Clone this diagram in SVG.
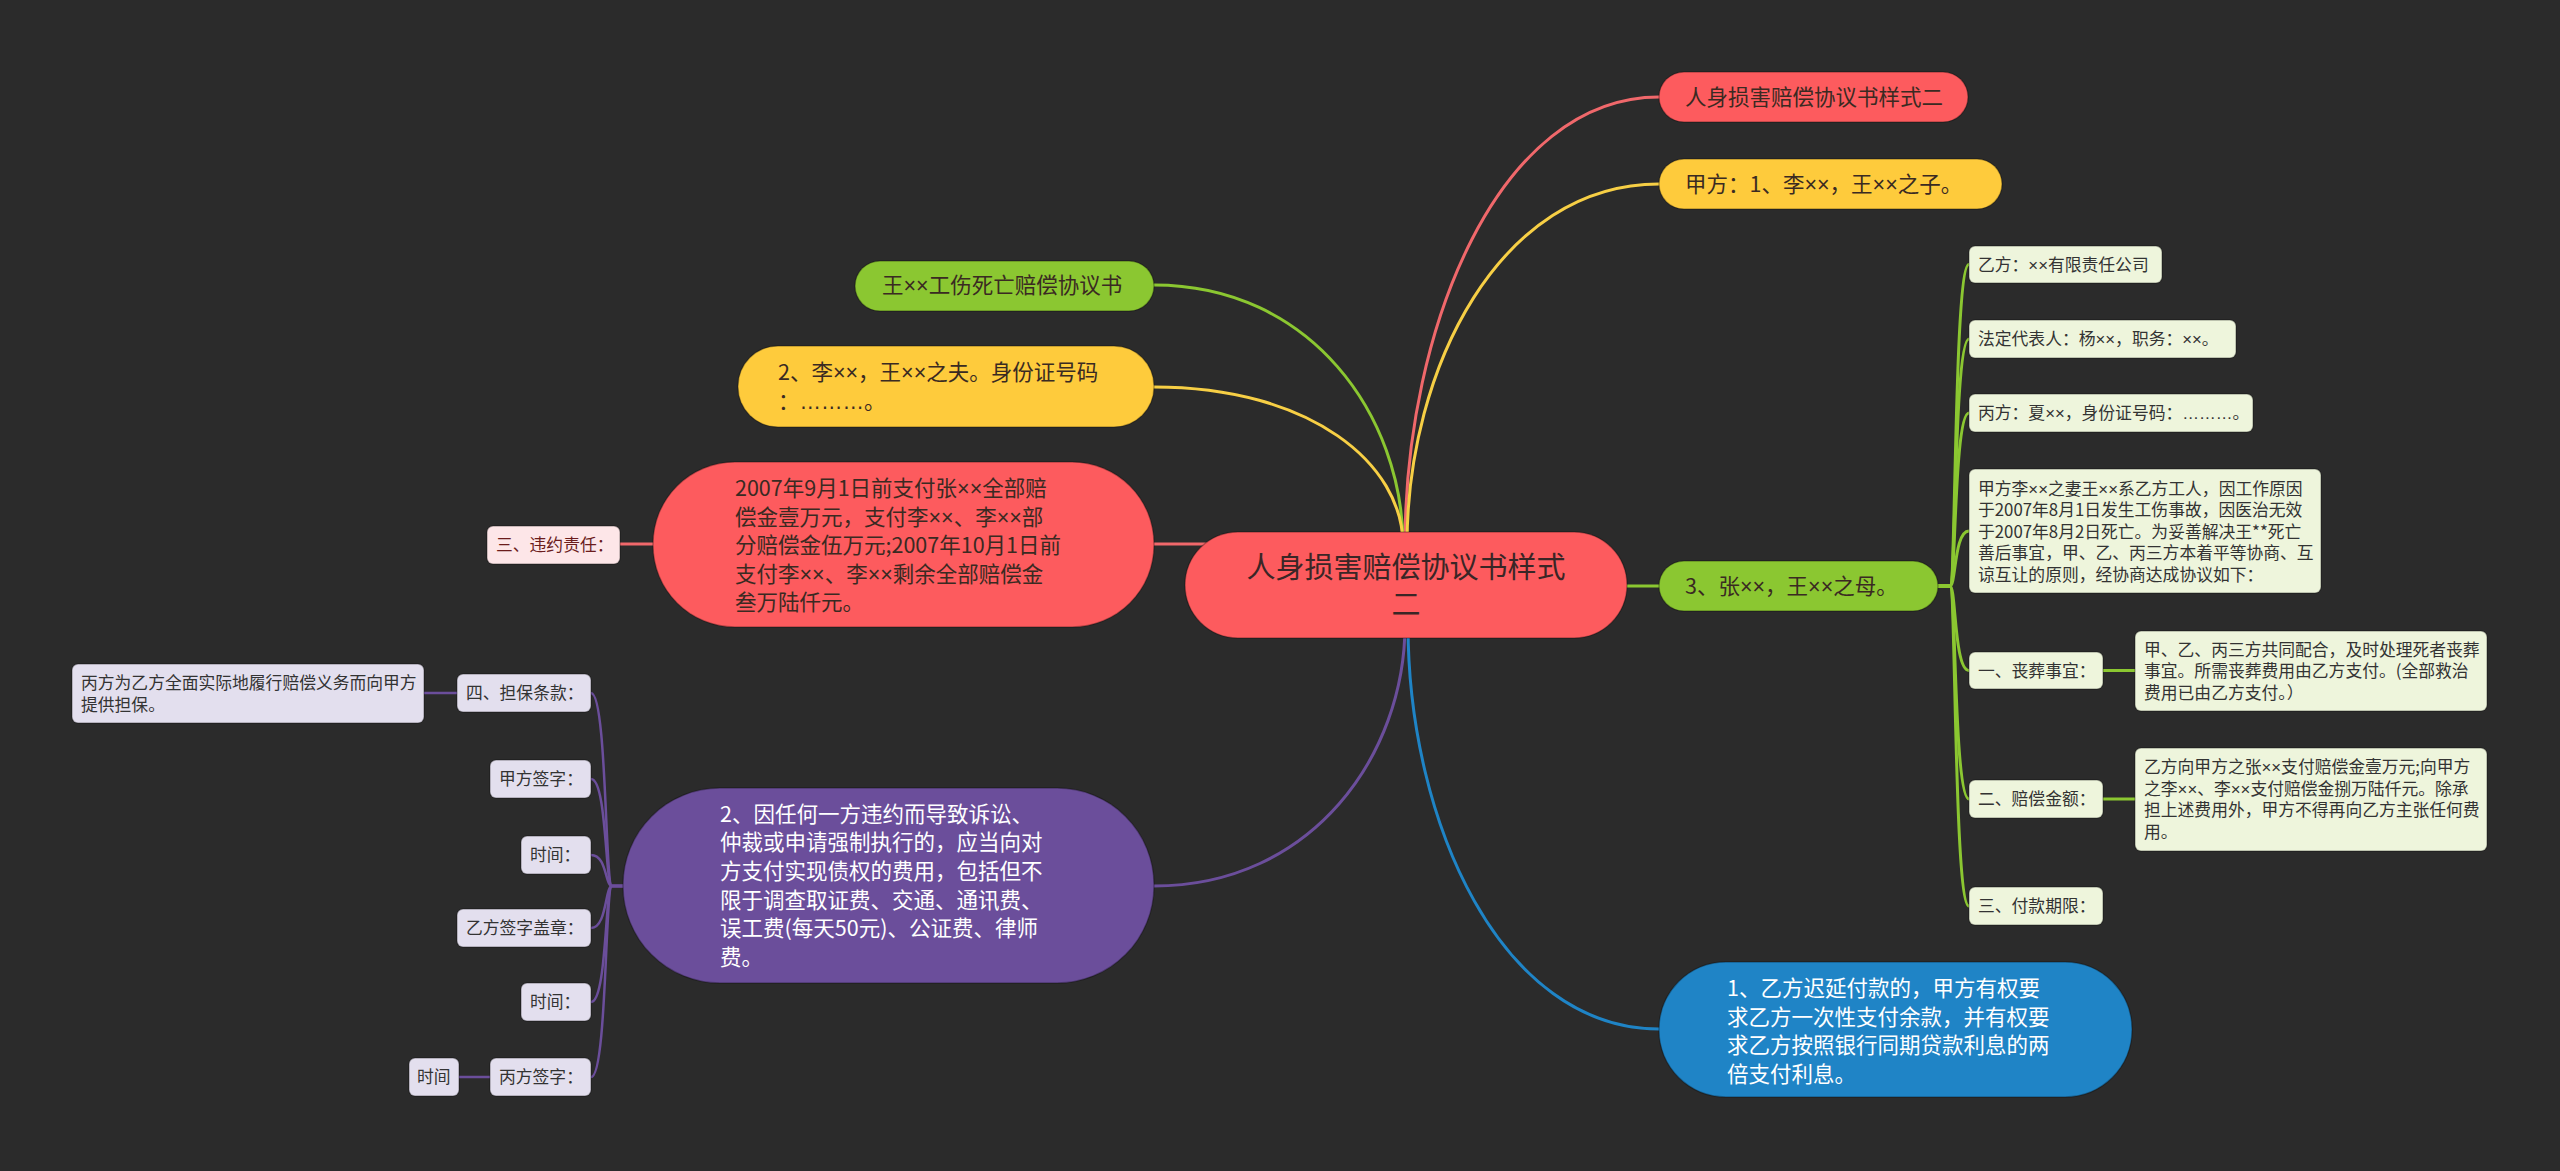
<svg xmlns="http://www.w3.org/2000/svg" width="2560" height="1171" viewBox="0 0 2560 1171">
<style>
text { font-family: "Noto Sans CJK SC", "Noto Sans", sans-serif; }
.x { font-family: "Liberation Sans", "Noto Sans CJK SC", sans-serif; }
.root { font-size: 29px; fill: #3a2626; text-anchor: middle; }
.m { font-size: 21.5px; fill: #3a2a22; }
.mw { font-size: 21.5px; fill: #ffffff; }
.l { font-size: 16.8px; fill: #333333; }
.lr { font-size: 16.8px; fill: #6b1c1c; }
.ol { stroke: rgba(0,0,0,0.28); stroke-width: 1.5; }
.red { fill: #fd5b5e; }
.yel { fill: #fecb3c; }
.grn { fill: #8bc731; }
.pur { fill: #6b4e9b; }
.blu { fill: #1f84c6; }
.pg { fill: #eef5dc; }
.pp { fill: #e3dfee; }
.pk { fill: #fde6e8; }
.c { fill: none; stroke-width: 3; stroke-linecap: round; }
.cr { stroke: #f0686b; }
.cy { stroke: #f7cf45; }
.cg { stroke: #8bc731; }
.cp { stroke: #6b4e9b; }
.cb { stroke: #1f84c6; }
</style>
<rect x="0" y="0" width="2560" height="1171" fill="#2b2b2b"/>

<g id="connectors">
  <path class="c cr" d="M1405 545 C1405 327 1499 97 1659 97"/>
  <path class="c cy" d="M1407 545 C1407 368 1500 184 1659 184"/>
  <path class="c cg" d="M1403 545 C1403 416 1311 285 1154 285"/>
  <path class="c cy" d="M1403 545 C1403 464 1311 387 1154 387"/>
  <path class="c cr" d="M1154 544 L1215 544"/>
  <path class="c cg" d="M1600 586 L1659 586"/>
  <path class="c cp" d="M1405 625 C1405 755 1312 886 1154 886"/>
  <path class="c cb" d="M1408 625 C1408 822 1501 1029 1659 1029"/>

  <path class="c cr" d="M620 544 L653 544"/>

  <path class="c cg" d="M1938 586 H1950 C1956 586 1954 264.5 1969 264.5"/>
  <path class="c cg" d="M1938 586 H1950 C1956 586 1954 339 1969 339"/>
  <path class="c cg" d="M1938 586 H1950 C1956 586 1954 413 1969 413"/>
  <path class="c cg" d="M1938 586 H1950 C1956 586 1954 531 1969 531"/>
  <path class="c cg" d="M1938 586 H1950 C1956 586 1954 670.5 1969 670.5"/>
  <path class="c cg" d="M1938 586 H1950 C1956 586 1954 799 1969 799"/>
  <path class="c cg" d="M1938 586 H1950 C1956 586 1954 906 1969 906"/>
  <path class="c cg" d="M2103 670.5 L2135 670.5"/>
  <path class="c cg" d="M2103 799 L2135 799"/>

  <path class="c cp" style="stroke-width:2.5" d="M623 886 H612 C605 886 607 693 591 693"/>
  <path class="c cp" style="stroke-width:2.5" d="M623 886 H612 C605 886 607 779 591 779"/>
  <path class="c cp" style="stroke-width:2.5" d="M623 886 H612 C605 886 607 855 591 855"/>
  <path class="c cp" style="stroke-width:2.5" d="M623 886 H612 C605 886 607 928 591 928"/>
  <path class="c cp" style="stroke-width:2.5" d="M623 886 H612 C605 886 607 1002 591 1002"/>
  <path class="c cp" style="stroke-width:2.5" d="M623 886 H612 C605 886 607 1077 591 1077"/>
  <path class="c cp" style="stroke-width:2.5" d="M457 693 L423 693"/>
  <path class="c cp" style="stroke-width:2.5" d="M490 1077 L459 1077"/>
</g>

<g id="root">
  <rect class="red ol" x="1185" y="532" width="442" height="106" rx="53"/>
  <text class="root" x="1406" y="578">人身损害赔偿协议书样式</text>
  <text class="root" x="1406" y="615">二</text>
</g>

<g id="n-sample2">
  <rect class="red ol" x="1659" y="72" width="309" height="50" rx="25"/>
  <text class="m" x="1685" y="104.5">人身损害赔偿协议书样式二</text>
</g>
<g id="n-jiafang">
  <rect class="yel ol" x="1659" y="159" width="343" height="50" rx="25"/>
  <text class="m" x="1685" y="191.5">甲方：1、李<tspan class="x">××</tspan>，王<tspan class="x">××</tspan>之子。</text>
</g>
<g id="n-zhang">
  <rect class="grn ol" x="1659" y="561" width="279" height="50" rx="25"/>
  <text class="m" x="1685" y="593.5">3、张<tspan class="x">××</tspan>，王<tspan class="x">××</tspan>之母。</text>
</g>
<g id="n-blue">
  <rect class="blu ol" x="1659" y="962" width="473" height="135" rx="67"/>
  <text class="mw" x="1727" y="996">1、乙方迟延付款的，甲方有权要</text>
  <text class="mw" x="1727" y="1024.5">求乙方一次性支付余款，并有权要</text>
  <text class="mw" x="1727" y="1053">求乙方按照银行同期贷款利息的两</text>
  <text class="mw" x="1727" y="1081.5">倍支付利息。</text>
</g>
<g id="n-wang">
  <rect class="grn ol" x="855" y="261" width="299" height="50" rx="25"/>
  <text class="m" x="882" y="293">王<tspan class="x">××</tspan>工伤死亡赔偿协议书</text>
</g>
<g id="n-li">
  <rect class="yel ol" x="738" y="346" width="416" height="81" rx="40"/>
  <text class="m" x="778" y="380">2、李<tspan class="x">××</tspan>，王<tspan class="x">××</tspan>之夫。身份证号码</text>
  <text class="m" x="778" y="409">：<tspan class="x">………</tspan>。</text>
</g>
<g id="n-pay">
  <rect class="red ol" x="653" y="462" width="501" height="165" rx="82"/>
  <text class="m" x="735" y="496">2007年9月1日前支付张<tspan class="x">××</tspan>全部赔</text>
  <text class="m" x="735" y="524.5">偿金壹万元，支付李<tspan class="x">××</tspan>、李<tspan class="x">××</tspan>部</text>
  <text class="m" x="735" y="553">分赔偿金伍万元;2007年10月1日前</text>
  <text class="m" x="735" y="581.5">支付李<tspan class="x">××</tspan>、李<tspan class="x">××</tspan>剩余全部赔偿金</text>
  <text class="m" x="735" y="610">叁万陆仟元。</text>
</g>
<g id="n-breach">
  <rect class="pk ol" x="487" y="526" width="133" height="38" rx="6"/>
  <text class="lr" x="496" y="551">三、违约责任：</text>
</g>
<g id="n-purple">
  <rect class="pur ol" x="623" y="788" width="531" height="195" rx="97"/>
  <text class="mw" x="720" y="821.5">2、因任何一方违约而导致诉讼、</text>
  <text class="mw" x="720" y="850">仲裁或申请强制执行的，应当向对</text>
  <text class="mw" x="720" y="879">方支付实现债权的费用，包括但不</text>
  <text class="mw" x="720" y="907.5">限于调查取证费、交通、通讯费、</text>
  <text class="mw" x="720" y="936">误工费(每天50元)、公证费、律师</text>
  <text class="mw" x="720" y="965">费。</text>
</g>

<g id="g-yifang">
  <rect class="pg ol" x="1969" y="246" width="193" height="37" rx="6"/>
  <text class="l" x="1978" y="270.5">乙方：<tspan class="x">××</tspan>有限责任公司</text>
</g>
<g id="g-rep">
  <rect class="pg ol" x="1969" y="320" width="267" height="38" rx="6"/>
  <text class="l" x="1978" y="345">法定代表人：杨<tspan class="x">××</tspan>，职务：<tspan class="x">××</tspan>。</text>
</g>
<g id="g-bing">
  <rect class="pg ol" x="1969" y="394" width="284" height="38" rx="6"/>
  <text class="l" x="1978" y="419">丙方：夏<tspan class="x">××</tspan>，身份证号码：<tspan class="x">………</tspan>。</text>
</g>
<g id="g-facts">
  <rect class="pg ol" x="1969" y="469" width="352" height="124" rx="6"/>
  <text class="l" x="1978" y="494.5">甲方李<tspan class="x">××</tspan>之妻王<tspan class="x">××</tspan>系乙方工人，因工作原因</text>
  <text class="l" x="1978" y="516">于2007年8月1日发生工伤事故，因医治无效</text>
  <text class="l" x="1978" y="537.5">于2007年8月2日死亡。为妥善解决王**死亡</text>
  <text class="l" x="1978" y="559">善后事宜，甲、乙、丙三方本着平等协商、互</text>
  <text class="l" x="1978" y="580.5">谅互让的原则，经协商达成协议如下：</text>
</g>
<g id="g-funeral">
  <rect class="pg ol" x="1969" y="652" width="134" height="37" rx="6"/>
  <text class="l" x="1978" y="676.5">一、丧葬事宜：</text>
</g>
<g id="g-funeral-d">
  <rect class="pg ol" x="2135" y="631" width="352" height="80" rx="6"/>
  <text class="l" x="2144" y="655.5">甲、乙、丙三方共同配合，及时处理死者丧葬</text>
  <text class="l" x="2144" y="677">事宜。所需丧葬费用由乙方支付。(全部救治</text>
  <text class="l" x="2144" y="698.5">费用已由乙方支付。）</text>
</g>
<g id="g-amount">
  <rect class="pg ol" x="1969" y="780" width="134" height="38" rx="6"/>
  <text class="l" x="1978" y="805">二、赔偿金额：</text>
</g>
<g id="g-amount-d">
  <rect class="pg ol" x="2135" y="748" width="352" height="103" rx="6"/>
  <text class="l" x="2144" y="773">乙方向甲方之张<tspan class="x">××</tspan>支付赔偿金壹万元;向甲方</text>
  <text class="l" x="2144" y="794.6">之李<tspan class="x">××</tspan>、李<tspan class="x">××</tspan>支付赔偿金捌万陆仟元。除承</text>
  <text class="l" x="2144" y="816.2">担上述费用外，甲方不得再向乙方主张任何费</text>
  <text class="l" x="2144" y="837.8">用。</text>
</g>
<g id="g-term">
  <rect class="pg ol" x="1969" y="887" width="134" height="38" rx="6"/>
  <text class="l" x="1978" y="912">三、付款期限：</text>
</g>

<g id="p-guarantee">
  <rect class="pp ol" x="457" y="674" width="134" height="38" rx="6"/>
  <text class="l" x="466" y="699">四、担保条款：</text>
</g>
<g id="p-guarantee-d">
  <rect class="pp ol" x="72" y="664" width="352" height="59" rx="6"/>
  <text class="l" x="81" y="689">丙方为乙方全面实际地履行赔偿义务而向甲方</text>
  <text class="l" x="81" y="710.5">提供担保。</text>
</g>
<g id="p-jiasign">
  <rect class="pp ol" x="490" y="760" width="101" height="38" rx="6"/>
  <text class="l" x="499" y="785">甲方签字：</text>
</g>
<g id="p-time1">
  <rect class="pp ol" x="521" y="836" width="70" height="38" rx="6"/>
  <text class="l" x="530" y="861">时间：</text>
</g>
<g id="p-yisign">
  <rect class="pp ol" x="457" y="909" width="134" height="38" rx="6"/>
  <text class="l" x="466" y="934">乙方签字盖章：</text>
</g>
<g id="p-time2">
  <rect class="pp ol" x="521" y="983" width="70" height="38" rx="6"/>
  <text class="l" x="530" y="1008">时间：</text>
</g>
<g id="p-bingsign">
  <rect class="pp ol" x="490" y="1058" width="101" height="38" rx="6"/>
  <text class="l" x="499" y="1083">丙方签字：</text>
</g>
<g id="p-time3">
  <rect class="pp ol" x="409" y="1058" width="50" height="38" rx="6"/>
  <text class="l" x="417" y="1083">时间</text>
</g>
</svg>
